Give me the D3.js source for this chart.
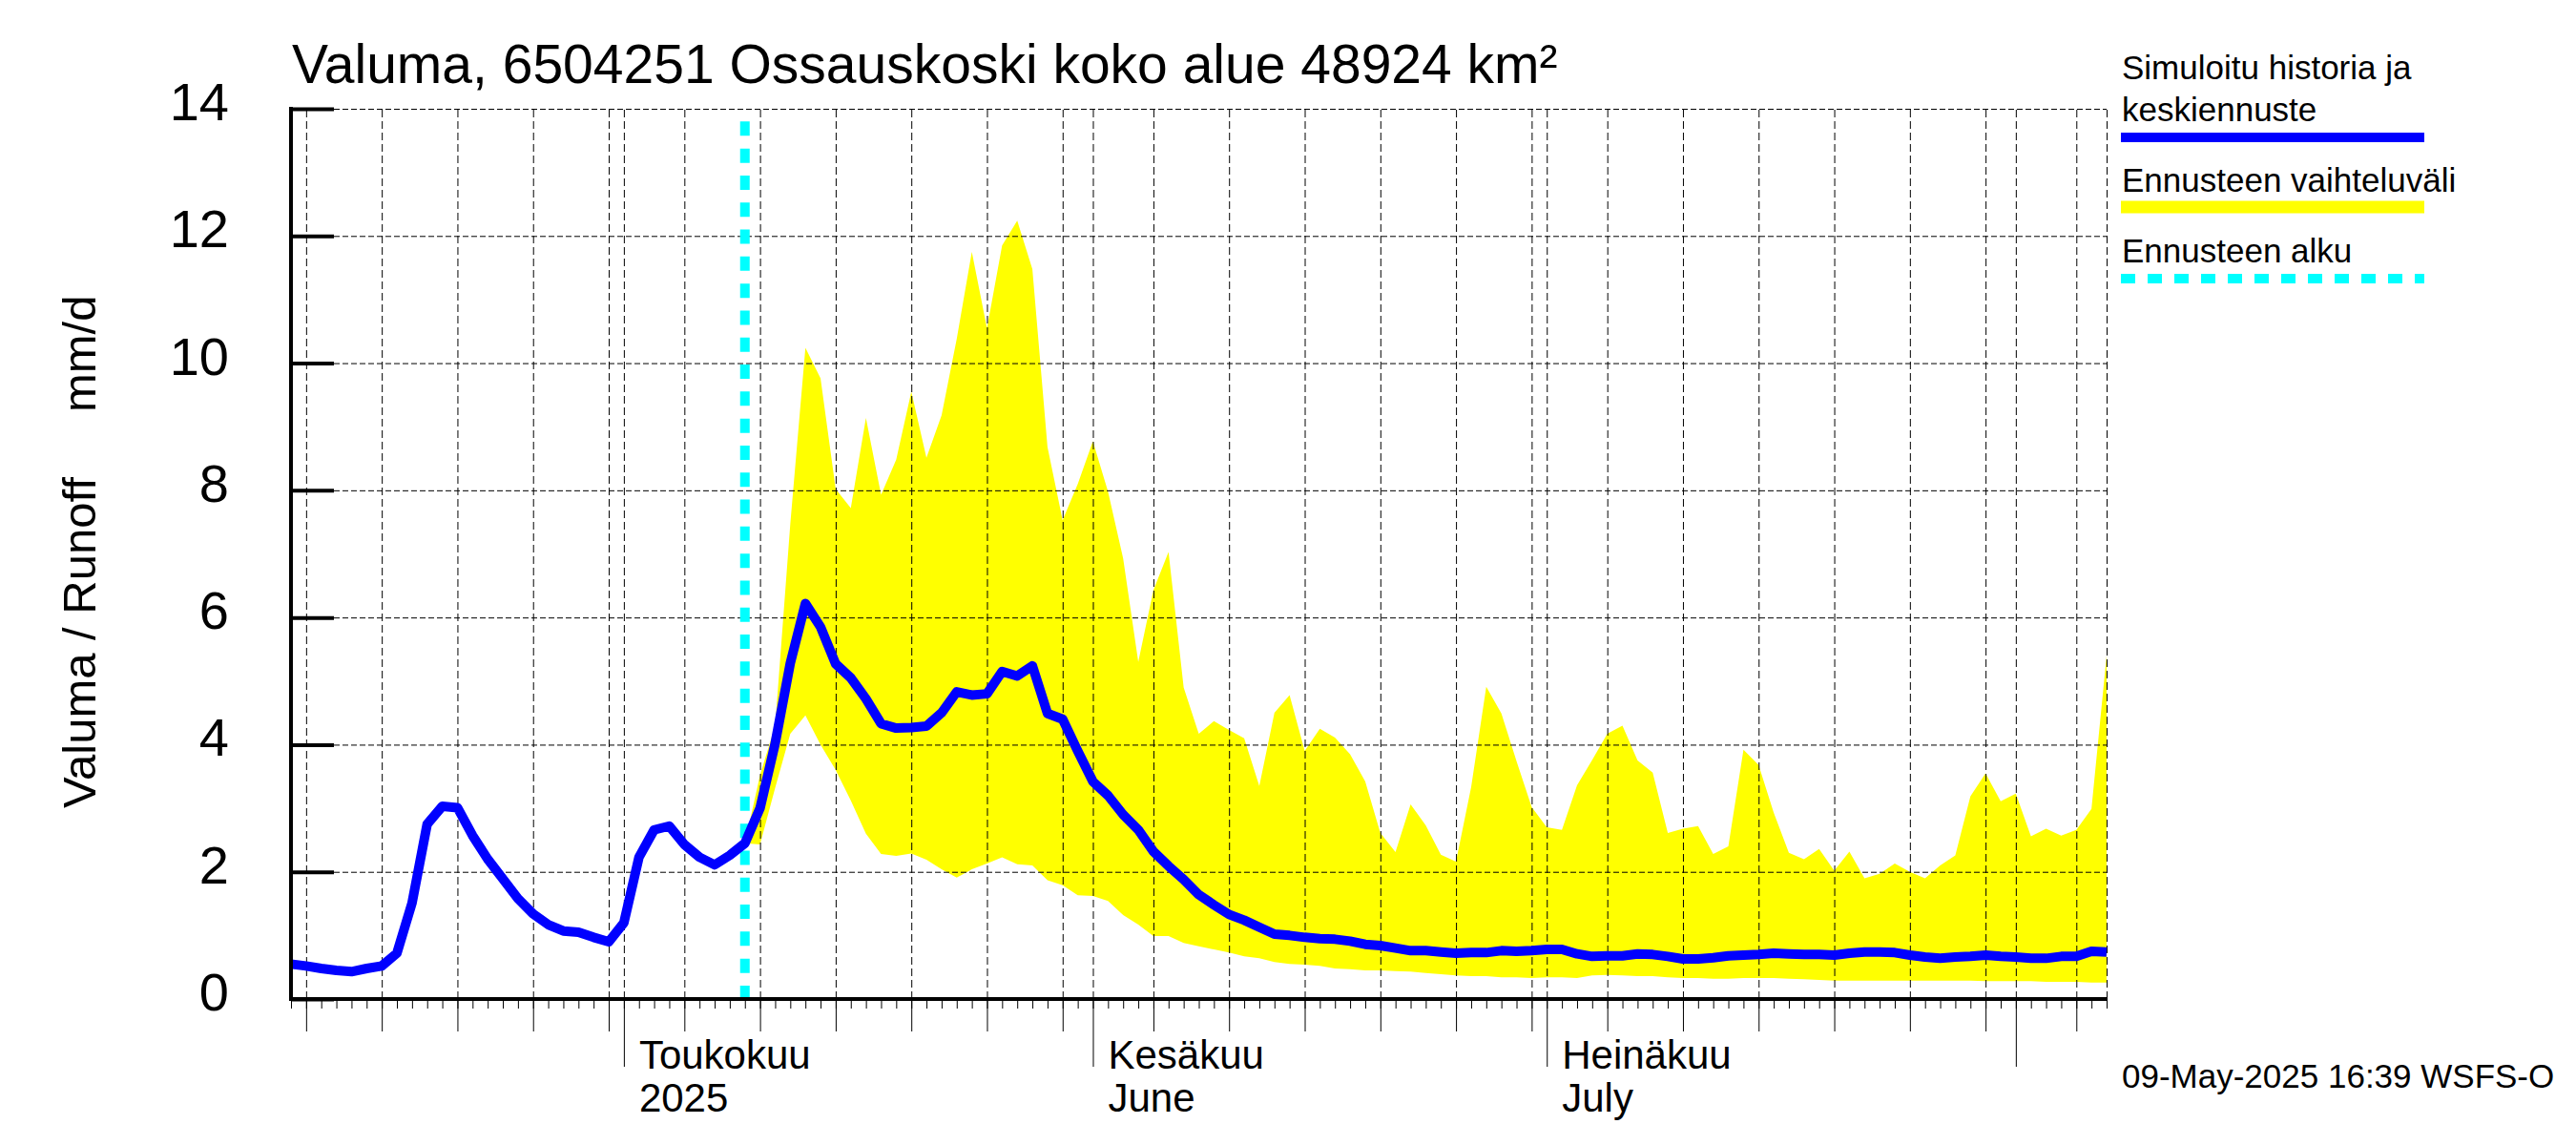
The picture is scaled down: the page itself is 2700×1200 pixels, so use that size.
<!DOCTYPE html>
<html>
<head>
<meta charset="utf-8">
<script src="https://cdn.jsdelivr.net/npm/d3@7"></script>
<style>
    body { margin: 0; background: #fff; }
    svg { display: block; }
    text { font-family: "Liberation Sans", Arial, sans-serif; fill: #000; }
</style>
</head>
<body>
<svg id="chart"></svg>
<script>
const width = 2700;
const height = 1200;
const marginTop = 114;
const marginRight = 492;
const marginBottom = 153;
const marginLeft = 305;

const firstDay = new Date(Date.UTC(2025, 3, 9));
const lastDay = new Date(Date.UTC(2025, 7, 7));
const forecastStart = new Date(Date.UTC(2025, 4, 9));
const forecastLineTop = 13.8;

// simuloitu historia + keskiennuste, one value per day from 9 Apr
const runoffMean = [
    0.55, 0.52, 0.48, 0.45, 0.43, 0.48, 0.52, 0.72, 1.51, 2.75,
    3.03, 3.01, 2.57, 2.20, 1.89, 1.58, 1.34, 1.17, 1.07, 1.05,
    0.97, 0.90, 1.20, 2.23, 2.66, 2.72, 2.43, 2.23, 2.11, 2.26,
    2.45, 3.00, 4.02, 5.28, 6.22, 5.85, 5.27, 5.05, 4.72, 4.33,
    4.26, 4.27, 4.29, 4.50, 4.83, 4.78, 4.80, 5.15, 5.08, 5.24,
    4.49, 4.40, 3.90, 3.42, 3.20, 2.90, 2.66, 2.32, 2.09, 1.88,
    1.64, 1.48, 1.33, 1.24, 1.13, 1.02, 1.00, 0.97, 0.95, 0.94,
    0.91, 0.86, 0.84, 0.80, 0.76, 0.76, 0.74, 0.72, 0.73, 0.73,
    0.76, 0.75, 0.76, 0.78, 0.78, 0.71, 0.67, 0.68, 0.68, 0.71,
    0.70, 0.67, 0.63, 0.63, 0.65, 0.68, 0.69, 0.70, 0.72, 0.71,
    0.70, 0.70, 0.69, 0.72, 0.74, 0.74, 0.73, 0.69, 0.66, 0.64,
    0.66, 0.67, 0.69, 0.67, 0.66, 0.64, 0.64, 0.67, 0.67, 0.75,
    0.74
];

// ennusteen vaihteluvali, one value per day from 9 May
const forecastUpper = [
    2.45, 3.52, 4.30, 7.47, 10.24, 9.76, 8.02, 7.72, 9.14, 7.93,
    8.48, 9.55, 8.51, 9.18, 10.38, 11.75, 10.55, 11.85, 12.24, 11.48,
    8.68, 7.53, 8.10, 8.77, 7.98, 6.93, 5.30, 6.43, 7.03, 4.90,
    4.17, 4.37, 4.23, 4.10, 3.35, 4.50, 4.78, 3.90, 4.25, 4.11,
    3.85, 3.42, 2.61, 2.31, 3.06, 2.73, 2.27, 2.16, 3.33, 4.91,
    4.49, 3.74, 3.02, 2.70, 2.66, 3.36, 3.76, 4.17, 4.30, 3.75,
    3.56, 2.61, 2.68, 2.72, 2.28, 2.40, 3.92, 3.68, 2.93, 2.30,
    2.20, 2.36, 2.02, 2.32, 1.90, 1.97, 2.13, 2.00, 1.90, 2.10,
    2.26, 3.19, 3.55, 3.11, 3.23, 2.56, 2.68, 2.57, 2.66, 2.99,
    5.40
];
const forecastLower = [
    2.45, 2.43, 3.32, 4.17, 4.46, 4.00, 3.60, 3.12, 2.60, 2.28,
    2.25, 2.29, 2.19, 2.04, 1.91, 2.04, 2.13, 2.23, 2.12, 2.10,
    1.87, 1.79, 1.63, 1.62, 1.54, 1.32, 1.17, 0.99, 0.99, 0.88,
    0.83, 0.78, 0.73, 0.67, 0.64, 0.58, 0.55, 0.54, 0.52, 0.48,
    0.47, 0.45, 0.45, 0.44, 0.43, 0.41, 0.39, 0.37, 0.36, 0.36,
    0.34, 0.34, 0.33, 0.34, 0.34, 0.33, 0.37, 0.38, 0.37, 0.36,
    0.36, 0.34, 0.33, 0.33, 0.32, 0.32, 0.33, 0.33, 0.33, 0.32,
    0.31, 0.30, 0.29, 0.29, 0.29, 0.29, 0.29, 0.29, 0.29, 0.29,
    0.29, 0.29, 0.28, 0.28, 0.28, 0.28, 0.27, 0.27, 0.27, 0.26,
    0.26
];

const yTicks = [0, 2, 4, 6, 8, 10, 12, 14];
const monthStarts = [
    new Date(Date.UTC(2025, 4, 1)),
    new Date(Date.UTC(2025, 5, 1)),
    new Date(Date.UTC(2025, 6, 1))
];
const monthLabels = ["Toukokuu", "Kesäkuu", "Heinäkuu"];
const monthSubLabels = ["2025", "June", "July"];

const titleText = "Valuma, 6504251 Ossauskoski koko alue 48924 km²";
const yLabelText = "Valuma / Runoff     mm/d";
const stampText = "09-May-2025 16:39 WSFS-O";

const days = d3.utcDay.range(firstDay, d3.utcDay.offset(lastDay, 1));
const forecastDays = d3.utcDay.range(forecastStart, d3.utcDay.offset(lastDay, 1));
const fiveDays = days.filter(d => d.getUTCDate() % 5 === 0);
const firstOfMonth = days.filter(d => d.getUTCDate() === 1);

const x = d3.scaleUtc()
    .domain([firstDay, lastDay])
    .range([marginLeft, width - marginRight]);

const y = d3.scaleLinear()
    .domain([0, 14])
    .range([height - marginBottom, marginTop]);

const svg = d3.select("#chart")
    .attr("width", width)
    .attr("height", height)
    .attr("viewBox", [0, 0, width, height]);

// yellow band
svg.append("path")
    .datum(forecastDays)
    .attr("fill", "#ffff00")
    .attr("d", d3.area()
        .x(d => x(d))
        .y0((d, i) => y(forecastLower[i]))
        .y1((d, i) => y(forecastUpper[i])));

// dashed grid, drawn over the band
const gridX = svg.append("g")
    .attr("transform", `translate(0,${height - marginBottom})`)
    .call(d3.axisBottom(x)
        .tickValues([...fiveDays, ...firstOfMonth, lastDay])
        .tickSize(-(height - marginTop - marginBottom))
        .tickFormat(""));
gridX.select(".domain").remove();
gridX.selectAll(".tick line")
    .attr("stroke", "#000")
    .attr("stroke-dasharray", "8 4");

const gridY = svg.append("g")
    .attr("transform", `translate(${marginLeft},0)`)
    .call(d3.axisLeft(y)
        .tickValues(yTicks)
        .tickSize(-(width - marginLeft - marginRight))
        .tickFormat(""));
gridY.select(".domain").remove();
gridY.selectAll(".tick line")
    .attr("stroke", "#000")
    .attr("stroke-dasharray", "6 3");

// forecast start
svg.append("line")
    .attr("x1", x(forecastStart))
    .attr("x2", x(forecastStart))
    .attr("y1", y(forecastLineTop))
    .attr("y2", y(0))
    .attr("stroke", "#00ffff")
    .attr("stroke-width", 10)
    .attr("stroke-dasharray", "15 13.3");

// mean line
svg.append("path")
    .datum(days)
    .attr("fill", "none")
    .attr("stroke", "#0000ff")
    .attr("stroke-width", 10)
    .attr("stroke-linejoin", "round")
    .attr("d", d3.line()
        .x(d => x(d))
        .y((d, i) => y(runoffMean[i])));

// x axis: daily, five-day and month ticks
const addXTicks = (values, size) => svg.append("g")
    .attr("transform", `translate(0,${height - marginBottom})`)
    .call(d3.axisBottom(x).tickValues(values).tickSizeOuter(0).tickSize(size).tickFormat(""))
    .call(g => g.select(".domain").remove())
    .call(g => g.selectAll(".tick line").attr("stroke", "#000"));
addXTicks(days, 10);
addXTicks(fiveDays, 34);
addXTicks(firstOfMonth, 71);

// y axis
const yAxis = svg.append("g")
    .attr("transform", `translate(${marginLeft},0)`)
    .call(d3.axisLeft(y).tickValues(yTicks).tickSize(-45).tickPadding(0).tickFormat(""));
yAxis.select(".domain").remove();
yAxis.selectAll(".tick line")
    .attr("stroke", "#000")
    .attr("stroke-width", 4);

svg.append("line")
    .attr("x1", marginLeft)
    .attr("x2", marginLeft)
    .attr("y1", y(14) - 2)
    .attr("y2", y(0) + 2)
    .attr("stroke", "#000")
    .attr("stroke-width", 4);
svg.append("line")
    .attr("x1", marginLeft)
    .attr("x2", width - marginRight)
    .attr("y1", y(0))
    .attr("y2", y(0))
    .attr("stroke", "#000")
    .attr("stroke-width", 4);

svg.append("g")
    .selectAll("text")
    .data(yTicks)
    .join("text")
    .attr("x", 240)
    .attr("y", d => y(d) + 12)
    .attr("text-anchor", "end")
    .attr("font-size", 56)
    .text(d => d);

// month labels
const monthGroup = svg.append("g")
    .selectAll("g")
    .data(monthStarts)
    .join("g")
    .attr("transform", d => `translate(${x(d) + 16},0)`);
monthGroup.append("text")
    .attr("y", 1120)
    .attr("font-size", 42)
    .text((d, i) => monthLabels[i]);
monthGroup.append("text")
    .attr("y", 1165)
    .attr("font-size", 42)
    .text((d, i) => monthSubLabels[i]);

// title and side labels
svg.append("text")
    .attr("x", 306)
    .attr("y", 87)
    .attr("font-size", 57)
    .text(titleText);

svg.append("text")
    .attr("transform", "translate(100,847) rotate(-90)")
    .attr("font-size", 49)
    .style("white-space", "pre")
    .text(yLabelText);

svg.append("text")
    .attr("x", 2224)
    .attr("y", 1140)
    .attr("font-size", 35)
    .text(stampText);

// legend
const legendX1 = 2223;
const legendX2 = 2541;
const legendText = [
    ["Simuloitu historia ja", 83],
    ["keskiennuste", 127],
    ["Ennusteen vaihteluväli", 201],
    ["Ennusteen alku", 275]
];
svg.append("g")
    .selectAll("text")
    .data(legendText)
    .join("text")
    .attr("x", legendX1 + 1)
    .attr("y", d => d[1])
    .attr("font-size", 35)
    .text(d => d[0]);

const legendLines = [
    [144, "#0000ff", 10, null],
    [217, "#ffff00", 13, null],
    [292, "#00ffff", 10, "15 13"]
];
svg.append("g")
    .selectAll("line")
    .data(legendLines)
    .join("line")
    .attr("x1", legendX1)
    .attr("x2", legendX2)
    .attr("y1", d => d[0])
    .attr("y2", d => d[0])
    .attr("stroke", d => d[1])
    .attr("stroke-width", d => d[2])
    .attr("stroke-dasharray", d => d[3]);
</script>
</body>
</html>
